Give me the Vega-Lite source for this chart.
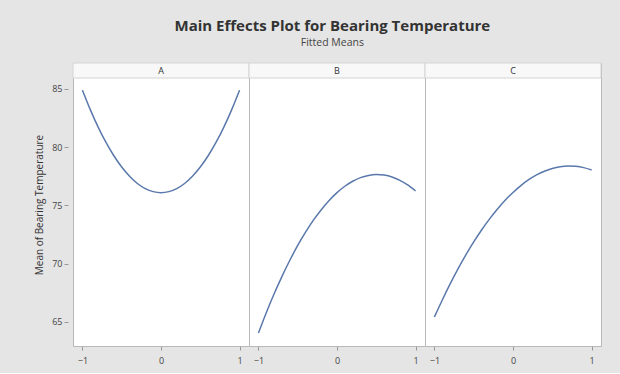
{
  "$schema": "https://vega.github.io/schema/vega-lite/v6.json",
  "background": "#e5e5e5",
  "padding": {"left": 34, "top": 18, "right": 18, "bottom": 8},
  "bounds": "flush",
  "title": {
    "text": "Main Effects Plot for Bearing Temperature",
    "subtitle": "Fitted Means",
    "font": "Open Sans",
    "fontSize": 15,
    "fontWeight": "bold",
    "color": "#333333",
    "subtitleFont": "Open Sans",
    "subtitleFontSize": 10.5,
    "subtitleColor": "#444444",
    "subtitlePadding": 4,
    "anchor": "middle",
    "dx": 14,
    "offset": 14
  },
  "data": {
    "values": [
      {"factor": "A", "x": -1.0, "y": 84.9},
      {"factor": "A", "x": -0.9, "y": 83.23},
      {"factor": "A", "x": -0.8, "y": 81.73},
      {"factor": "A", "x": -0.7, "y": 80.41},
      {"factor": "A", "x": -0.6, "y": 79.27},
      {"factor": "A", "x": -0.5, "y": 78.3},
      {"factor": "A", "x": -0.4, "y": 77.51},
      {"factor": "A", "x": -0.3, "y": 76.89},
      {"factor": "A", "x": -0.2, "y": 76.45},
      {"factor": "A", "x": -0.1, "y": 76.19},
      {"factor": "A", "x": 0.0, "y": 76.1},
      {"factor": "A", "x": 0.1, "y": 76.19},
      {"factor": "A", "x": 0.2, "y": 76.45},
      {"factor": "A", "x": 0.3, "y": 76.89},
      {"factor": "A", "x": 0.4, "y": 77.51},
      {"factor": "A", "x": 0.5, "y": 78.3},
      {"factor": "A", "x": 0.6, "y": 79.27},
      {"factor": "A", "x": 0.7, "y": 80.41},
      {"factor": "A", "x": 0.8, "y": 81.73},
      {"factor": "A", "x": 0.9, "y": 83.23},
      {"factor": "A", "x": 1.0, "y": 84.9},
      {"factor": "B", "x": -1.0, "y": 64.06},
      {"factor": "B", "x": -0.9, "y": 65.8},
      {"factor": "B", "x": -0.8, "y": 67.42},
      {"factor": "B", "x": -0.7, "y": 68.92},
      {"factor": "B", "x": -0.6, "y": 70.3},
      {"factor": "B", "x": -0.5, "y": 71.57},
      {"factor": "B", "x": -0.4, "y": 72.71},
      {"factor": "B", "x": -0.3, "y": 73.74},
      {"factor": "B", "x": -0.2, "y": 74.64},
      {"factor": "B", "x": -0.1, "y": 75.43},
      {"factor": "B", "x": 0.0, "y": 76.1},
      {"factor": "B", "x": 0.1, "y": 76.65},
      {"factor": "B", "x": 0.2, "y": 77.08},
      {"factor": "B", "x": 0.3, "y": 77.39},
      {"factor": "B", "x": 0.4, "y": 77.58},
      {"factor": "B", "x": 0.5, "y": 77.66},
      {"factor": "B", "x": 0.6, "y": 77.61},
      {"factor": "B", "x": 0.7, "y": 77.45},
      {"factor": "B", "x": 0.8, "y": 77.16},
      {"factor": "B", "x": 0.9, "y": 76.76},
      {"factor": "B", "x": 1.0, "y": 76.24},
      {"factor": "C", "x": -1.0, "y": 65.43},
      {"factor": "C", "x": -0.9, "y": 66.89},
      {"factor": "C", "x": -0.8, "y": 68.27},
      {"factor": "C", "x": -0.7, "y": 69.56},
      {"factor": "C", "x": -0.6, "y": 70.76},
      {"factor": "C", "x": -0.5, "y": 71.87},
      {"factor": "C", "x": -0.4, "y": 72.9},
      {"factor": "C", "x": -0.3, "y": 73.83},
      {"factor": "C", "x": -0.2, "y": 74.68},
      {"factor": "C", "x": -0.1, "y": 75.45},
      {"factor": "C", "x": 0.0, "y": 76.12},
      {"factor": "C", "x": 0.1, "y": 76.71},
      {"factor": "C", "x": 0.2, "y": 77.21},
      {"factor": "C", "x": 0.3, "y": 77.62},
      {"factor": "C", "x": 0.4, "y": 77.94},
      {"factor": "C", "x": 0.5, "y": 78.18},
      {"factor": "C", "x": 0.6, "y": 78.33},
      {"factor": "C", "x": 0.7, "y": 78.39},
      {"factor": "C", "x": 0.8, "y": 78.36},
      {"factor": "C", "x": 0.9, "y": 78.25},
      {"factor": "C", "x": 1.0, "y": 78.05}
    ]
  },
  "facet": {
    "column": {"field": "factor", "type": "nominal", "header": {"title": null, "labels": false}}
  },
  "spacing": 0,
  "spec": {
    "width": 176,
    "height": 283,
    "layer": [
      {
        "mark": {"type": "rect", "fill": "#f8f8f8", "stroke": "#d4d4d4", "strokeWidth": 1},
        "transform": [{"filter": "datum.x == 0"}],
        "encoding": {
          "x": {"datum": -1.12, "type": "quantitative"},
          "x2": {"datum": 1.12},
          "y": {"datum": 85.94, "type": "quantitative"},
          "y2": {"datum": 87.23}
        }
      },
      {
        "mark": {"type": "text", "font": "Open Sans", "fontSize": 9, "color": "#333333", "baseline": "middle"},
        "transform": [{"filter": "datum.x == 0"}],
        "encoding": {
          "x": {"datum": 0, "type": "quantitative"},
          "y": {"datum": 86.58, "type": "quantitative"},
          "text": {"field": "factor", "type": "nominal"}
        }
      },
      {
        "mark": {"type": "line", "color": "#5a78ab", "strokeWidth": 1.5, "interpolate": "monotone"},
        "encoding": {
          "x": {
            "field": "x", "type": "quantitative",
            "scale": {"domain": [-1.12, 1.12], "nice": false, "zero": false},
            "axis": {"title": null, "values": [-1, 0, 1], "format": "d", "tickSize": 4, "labelPadding": 6}
          },
          "y": {
            "field": "y", "type": "quantitative",
            "scale": {"domain": [62.94, 87.23], "nice": false, "zero": false},
            "axis": {"title": "Mean of Bearing Temperature", "values": [65, 70, 75, 80, 85], "tickSize": 4, "offset": 5, "labelPadding": 2, "titlePadding": 7}
          }
        }
      }
    ]
  },
  "config": {
    "view": {"fill": "white", "stroke": "#b8b8b8", "strokeWidth": 1},
    "axis": {
      "grid": false,
      "domain": false,
      "labelFont": "Open Sans",
      "labelFontSize": 9,
      "labelColor": "#444444",
      "tickColor": "#999999",
      "titleFont": "Open Sans",
      "titleFontSize": 10,
      "titleFontWeight": "normal",
      "titleColor": "#333333"
    }
  }
}
